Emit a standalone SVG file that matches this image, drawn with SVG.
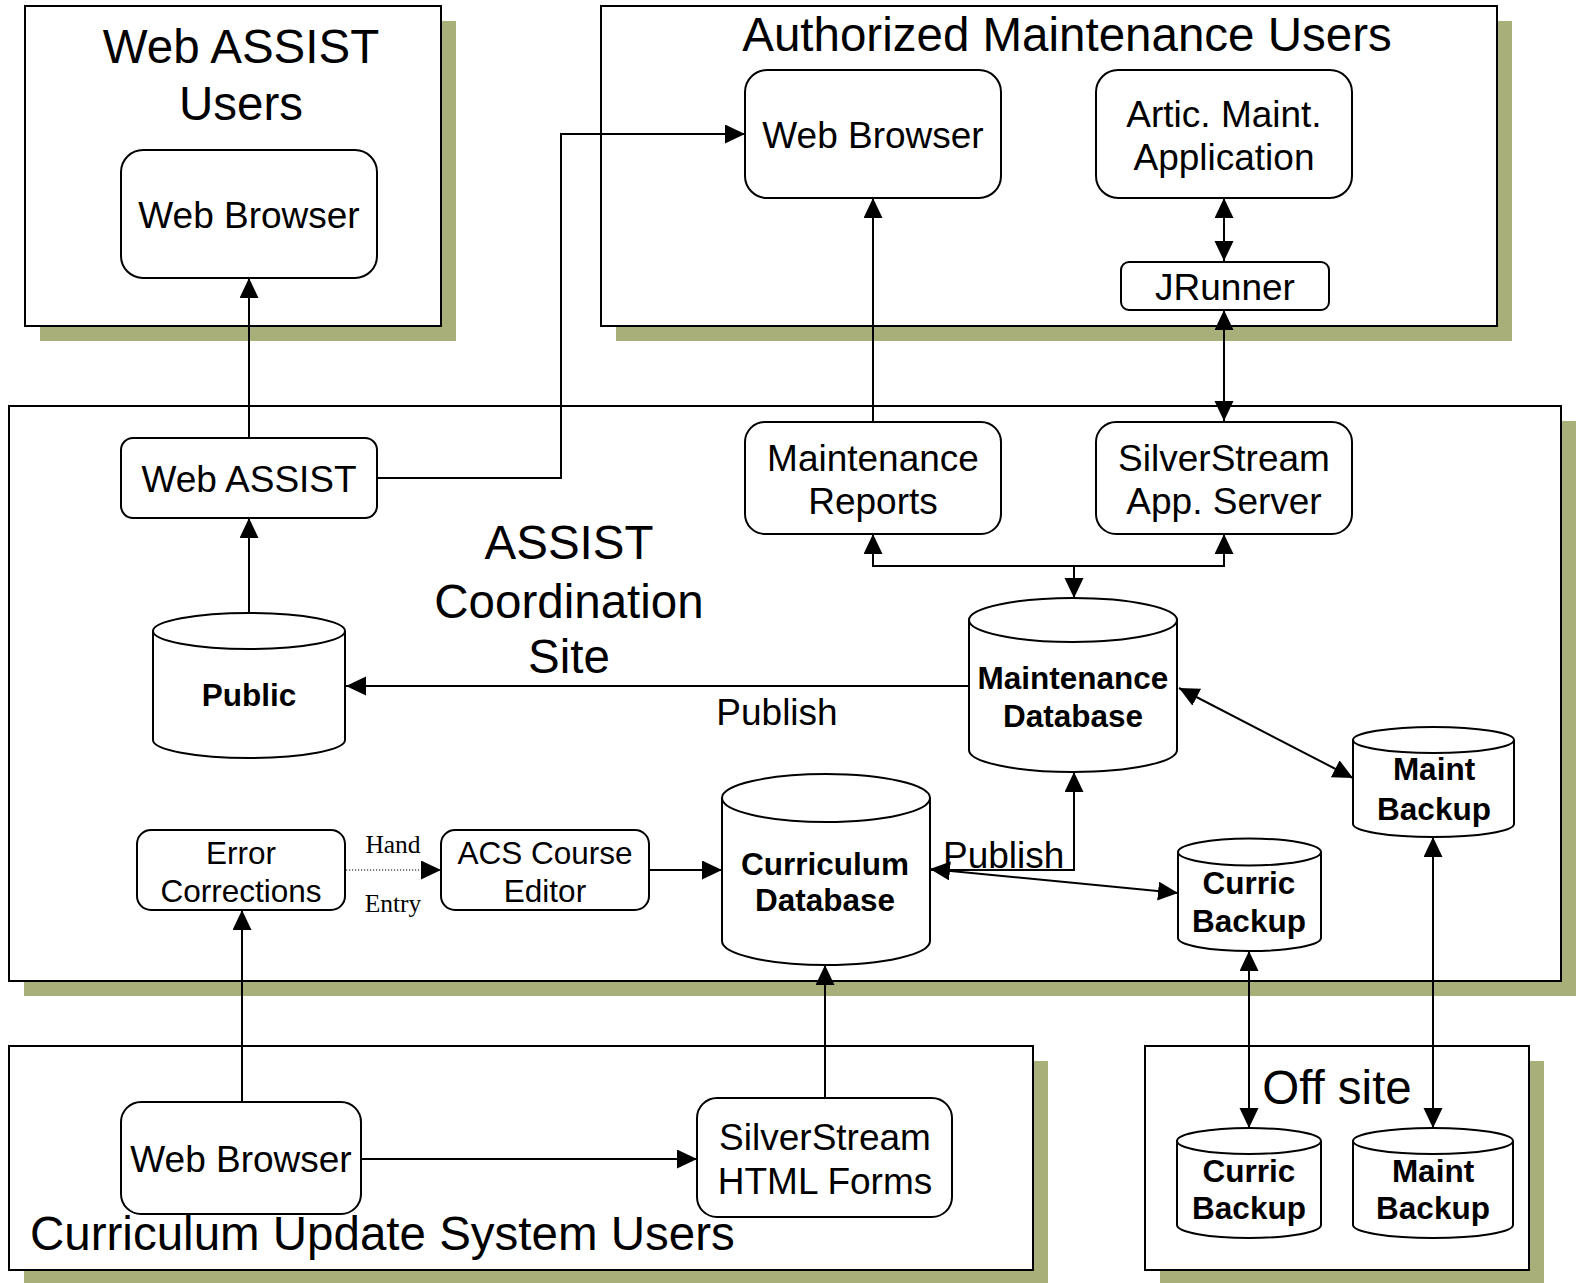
<svg xmlns="http://www.w3.org/2000/svg" width="1580" height="1283" viewBox="0 0 1580 1283">
<style>
text{font-family:"Liberation Sans",Arial,sans-serif;fill:#000;text-anchor:middle}
.t47{font-size:47.5px}
.t37{font-size:37px}
.t31{font-size:31.5px}
.b31{font-size:31.5px;font-weight:bold}
.tm{font-family:"Liberation Serif","Times New Roman",serif;font-size:25.5px}
.shadow{fill:#a9af78;stroke:none}
.box{fill:#fff;stroke:#000;stroke-width:2}
.node{fill:#fff;stroke:#000;stroke-width:2}
.c{fill:none;stroke:#000;stroke-width:2}
.a{marker-end:url(#ah)}
.aa{marker-end:url(#ah);marker-start:url(#ah)}
.dot{fill:none;stroke:#000;stroke-width:1.2;stroke-dasharray:1.2 1.8;marker-end:url(#ah)}
</style>
<defs>
<marker id="ah" markerUnits="userSpaceOnUse" markerWidth="22" markerHeight="20" refX="20" refY="9.5" orient="auto-start-reverse"><path d="M0,0 L20,9.5 L0,19 Z" fill="#000"/></marker>
</defs>
<rect width="1580" height="1283" fill="#fff"/>

<g id="containers">
 <g id="web-assist-users">
  <rect class="shadow" x="40" y="21" width="416" height="320"/>
  <rect class="box" x="25" y="6" width="416" height="320"/>
  <text class="t47" x="241" y="63">Web ASSIST</text>
  <text class="t47" x="241" y="120">Users</text>
 </g>
 <g id="authorized-maintenance-users">
  <rect class="shadow" x="616" y="21" width="896" height="320"/>
  <rect class="box" x="601" y="6" width="896" height="320"/>
  <text class="t47" x="1067" y="51">Authorized Maintenance Users</text>
 </g>
 <g id="assist-coordination-site">
  <rect class="shadow" x="24" y="421" width="1552" height="575"/>
  <rect class="box" x="9" y="406" width="1552" height="575"/>
  <text class="t47" x="569" y="559">ASSIST</text>
  <text class="t47" x="569" y="618">Coordination</text>
  <text class="t47" x="569" y="673">Site</text>
 </g>
 <g id="curriculum-update-system-users">
  <rect class="shadow" x="24" y="1061" width="1024" height="224"/>
  <rect class="box" x="9" y="1046" width="1024" height="224"/>
 </g>
 <g id="off-site">
  <rect class="shadow" x="1160" y="1061" width="384" height="224"/>
  <rect class="box" x="1145" y="1046" width="384" height="224"/>
  <text class="t47" x="1337" y="1104">Off site</text>
 </g>
</g>

<g id="connectors">
 <path class="c a" d="M249,438 V278"/>
 <path class="c a" d="M377,478 H561 V134 H745"/>
 <path class="c a" d="M873,421 V198"/>
 <path class="c aa" d="M1224,261 V198"/>
 <path class="c aa" d="M1224,421 V310"/>
 <path class="c aa" d="M873,534 V566 H1224 V534"/>
 <path class="c a" d="M1074,566 V598"/>
 <path class="c a" d="M969,686 H346"/>
 <path class="c aa" d="M1179,688 L1353,778"/>
 <path class="c a" d="M249,613 V518"/>
 <path class="dot" d="M346,870 H441"/>
 <path class="c a" d="M649,870 H722"/>
 <path class="c a" d="M930,870 H1074 V772"/>
 <path class="c aa" d="M930,869 L1178,893"/>
 <path class="c aa" d="M1249,951 V1128"/>
 <path class="c aa" d="M1433,837 V1128"/>
 <path class="c a" d="M242,1102 V910"/>
 <path class="c a" d="M825,1098 V965"/>
 <path class="c a" d="M361,1159 H697"/>
 <text class="t37" x="777" y="725">Publish</text>
 <text class="t37" x="943" y="868" style="text-anchor:start">Publish</text>
 <text class="tm" x="393" y="853">Hand</text>
 <text class="tm" x="393" y="912">Entry</text>
</g>

<g id="web-browser-public">
 <rect class="node" x="121" y="150" width="256" height="128" rx="22"/>
 <text class="t37" x="249" y="228">Web Browser</text>
</g>
<g id="web-browser-maint">
 <rect class="node" x="745" y="70" width="256" height="128" rx="22"/>
 <text class="t37" x="873" y="148">Web Browser</text>
</g>
<g id="artic-maint-application">
 <rect class="node" x="1096" y="70" width="256" height="128" rx="22"/>
 <text class="t37" x="1224" y="127">Artic. Maint.</text>
 <text class="t37" x="1224" y="170">Application</text>
</g>
<g id="jrunner">
 <rect class="node" x="1121" y="262" width="208" height="48" rx="8"/>
 <text class="t37" x="1225" y="300">JRunner</text>
</g>
<g id="web-assist">
 <rect class="node" x="121" y="438" width="256" height="80" rx="12"/>
 <text class="t37" x="249" y="492">Web ASSIST</text>
</g>
<g id="maintenance-reports">
 <rect class="node" x="745" y="422" width="256" height="112" rx="20"/>
 <text class="t37" x="873" y="471">Maintenance</text>
 <text class="t37" x="873" y="514">Reports</text>
</g>
<g id="silverstream-app-server">
 <rect class="node" x="1096" y="422" width="256" height="112" rx="20"/>
 <text class="t37" x="1224" y="471">SilverStream</text>
 <text class="t37" x="1224" y="514">App. Server</text>
</g>
<g id="public-db">
 <path class="node" d="M153,631 A96,18 0 0 1 345,631 V740 A96,18 0 0 1 153,740 Z M153,631 A96,18 0 0 0 345,631"/>
 <text class="b31" x="249" y="706">Public</text>
</g>
<g id="maintenance-db">
 <path class="node" d="M969,620 A104,22 0 0 1 1177,620 V750 A104,22 0 0 1 969,750 Z M969,620 A104,22 0 0 0 1177,620"/>
 <text class="b31" x="1073" y="689">Maintenance</text>
 <text class="b31" x="1073" y="727">Database</text>
</g>
<g id="maint-backup-site">
 <path class="node" d="M1353,740 A80.5,13 0 0 1 1514,740 V824 A80.5,13 0 0 1 1353,824 Z M1353,740 A80.5,13 0 0 0 1514,740"/>
 <text class="b31" x="1434" y="780">Maint</text>
 <text class="b31" x="1434" y="820">Backup</text>
</g>
<g id="error-corrections">
 <rect class="node" x="137" y="830" width="208" height="80" rx="14"/>
 <text class="t31" x="241" y="864">Error</text>
 <text class="t31" x="241" y="902">Corrections</text>
</g>
<g id="acs-course-editor">
 <rect class="node" x="441" y="830" width="208" height="80" rx="14"/>
 <text class="t31" x="545" y="864">ACS Course</text>
 <text class="t31" x="545" y="902">Editor</text>
</g>
<g id="curriculum-db">
 <path class="node" d="M722,798 A104,24 0 0 1 930,798 V941 A104,24 0 0 1 722,941 Z M722,798 A104,24 0 0 0 930,798"/>
 <text class="b31" x="825" y="875">Curriculum</text>
 <text class="b31" x="825" y="911">Database</text>
</g>
<g id="curric-backup-site">
 <path class="node" d="M1178,852 A71.5,13.5 0 0 1 1321,852 V938 A71.5,13 0 0 1 1178,938 Z M1178,852 A71.5,13.5 0 0 0 1321,852"/>
 <text class="b31" x="1249" y="894">Curric</text>
 <text class="b31" x="1249" y="932">Backup</text>
</g>
<g id="curric-backup-offsite">
 <path class="node" d="M1177,1141 A72,13 0 0 1 1321,1141 V1225 A72,13 0 0 1 1177,1225 Z M1177,1141 A72,13 0 0 0 1321,1141"/>
 <text class="b31" x="1249" y="1182">Curric</text>
 <text class="b31" x="1249" y="1219">Backup</text>
</g>
<g id="maint-backup-offsite">
 <path class="node" d="M1353,1141 A80,13 0 0 1 1513,1141 V1225 A80,13 0 0 1 1353,1225 Z M1353,1141 A80,13 0 0 0 1513,1141"/>
 <text class="b31" x="1433" y="1182">Maint</text>
 <text class="b31" x="1433" y="1219">Backup</text>
</g>
<g id="web-browser-cus">
 <rect class="node" x="121" y="1102" width="240" height="112" rx="20"/>
 <text class="t37" x="241" y="1172">Web Browser</text>
</g>
<g id="silverstream-html-forms">
 <rect class="node" x="697" y="1098" width="255" height="119" rx="20"/>
 <text class="t37" x="825" y="1150">SilverStream</text>
 <text class="t37" x="825" y="1194">HTML Forms</text>
</g>
<text class="t47" x="30" y="1250" style="text-anchor:start">Curriculum Update System Users</text>
</svg>
